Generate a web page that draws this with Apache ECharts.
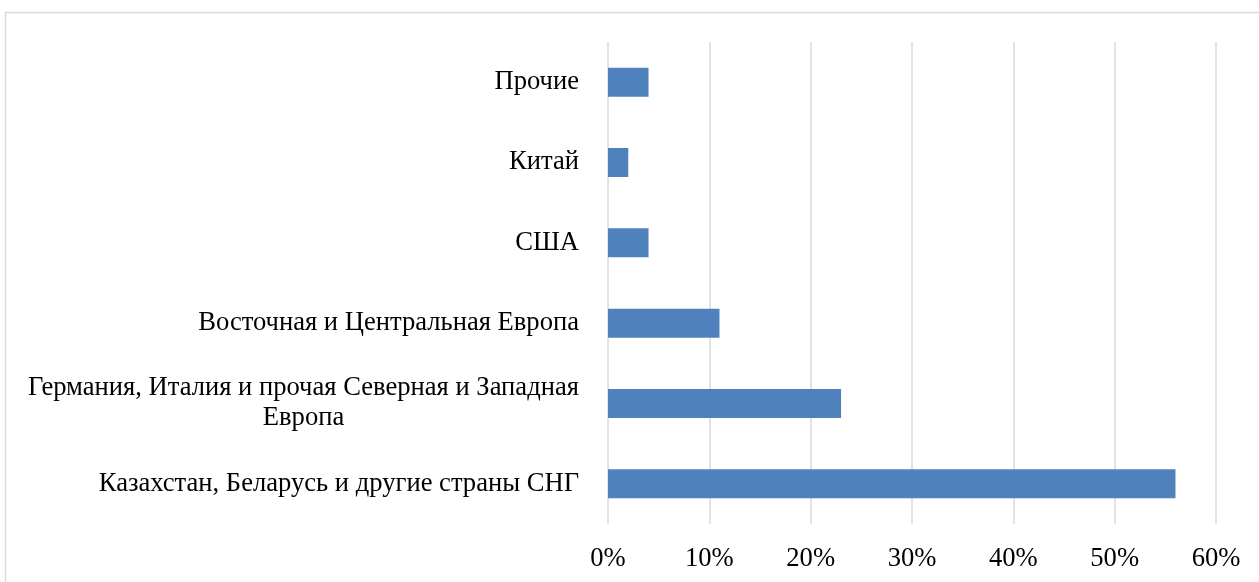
<!DOCTYPE html>
<html>
<head>
<meta charset="utf-8">
<script src="https://cdn.jsdelivr.net/npm/echarts@6/dist/echarts.min.js"></script>
<style>
    html, body {margin: 0; padding: 0; background: #fff;}
    #chart {width: 1259px; height: 582px;}
</style>
</head>
<body>
<div id="chart"></div>
<script>
// bottom to top, as the axis draws them
const categories = [
    'Казахстан, Беларусь и другие страны СНГ',
    'Германия, Италия и прочая Северная и Западная\nЕвропа',
    'Восточная и Центральная Европа',
    'США',
    'Китай',
    'Прочие'
];
const shares = [56, 23, 11, 4, 2, 4];
const xTicks = [0, 10, 20, 30, 40, 50, 60];

const font = 'Liberation Serif';
const fontSize = 26.6;

// ширина самой длинной строки, чтобы прижать двухстрочный блок вправо
function textWidth(str) {
    const ctx = document.createElement('canvas').getContext('2d');
    ctx.font = fontSize + 'px "' + font + '"';
    return ctx.measureText(str).width;
}

const chart = echarts.init(document.getElementById('chart'));

chart.setOption({
    animation: false,
    graphic: [{
        type: 'rect',
        shape: {x: 5.5, y: 12.5, width: 1300, height: 600},
        style: {fill: 'none', stroke: '#d9d9d9', lineWidth: 1.5},
        silent: true
    }],
    grid: {left: 608, right: 43, top: 42, bottom: 58},
    xAxis: {
        type: 'value',
        min: xTicks[0],
        max: xTicks[xTicks.length - 1],
        interval: 10,
        axisLine: {show: false},
        axisTick: {show: false},
        splitLine: {lineStyle: {color: '#d9d9d9', width: 1.5}},
        axisLabel: {
            margin: 22,
            color: '#000',
            fontFamily: font,
            fontSize: fontSize,
            formatter: '{value}%'
        }
    },
    yAxis: {
        type: 'category',
        data: categories.map((c)=> {
            if (c.indexOf('\n') < 0) {
                return c;
            }
            const w = Math.max.apply(null, c.split('\n').map(textWidth));
            return {value: c, textStyle: {align: 'center', padding: [0, Math.round(w), 0, 0]}};
        }),
        axisLine: {show: false},
        axisTick: {show: false},
        axisLabel: {
            margin: 29,
            color: '#000',
            fontFamily: font,
            fontSize: fontSize,
            lineHeight: 30
        }
    },
    series: [{
        type: 'bar',
        data: shares,
        barWidth: 29,
        itemStyle: {color: '#4f81bd'}
    }]
});
</script>
</body>
</html>
